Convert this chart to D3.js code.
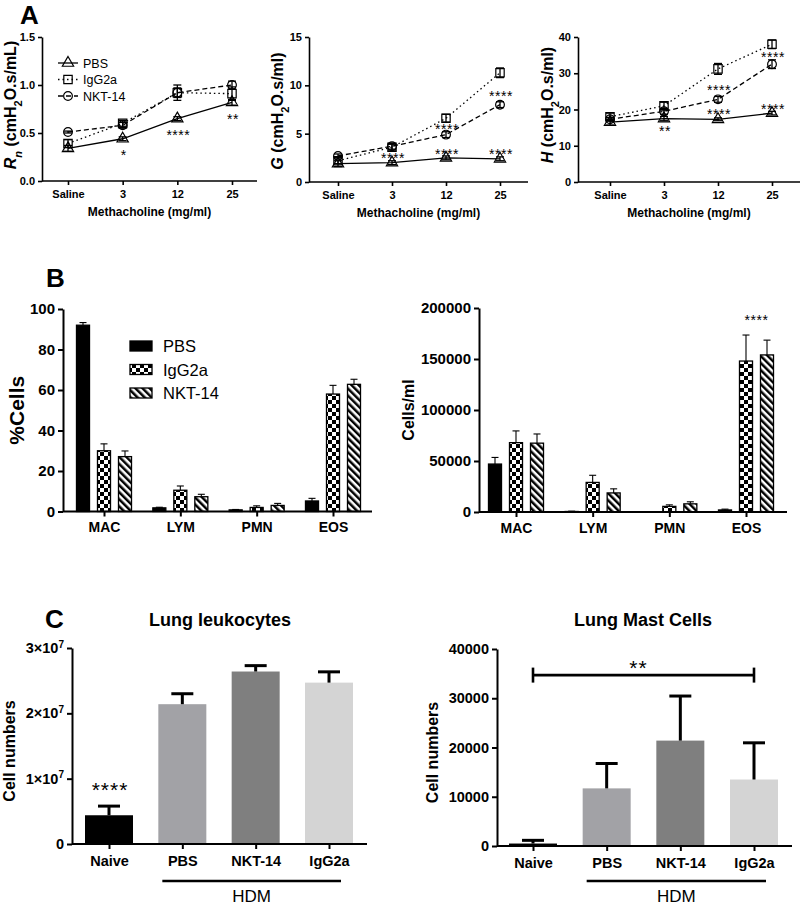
<!DOCTYPE html>
<html><head><meta charset="utf-8">
<script src="https://cdn.jsdelivr.net/npm/d3@7"></script>
<style>
body{margin:0;background:#fff;}
svg{display:block;font-family:"Liberation Sans",Arial,Helvetica,sans-serif;}
</style></head><body>
<svg id="fig" width="800" height="905"></svg>
<script>
// ================= DATA =================
const doses = ["Saline","3","12","25"];
const seriesA = ["PBS","IgG2a","NKT-14"];

const rnPBS = [0.34,0.44,0.65,0.82];
const rnIgG = [0.39,0.60,0.92,0.91];
const rnNKT = [0.51,0.58,0.92,1.00];
const rnPBSErr = [0.03,0.02,0.02,0.03];
const rnIgGErr = [0.04,0.03,0.08,0.07];
const rnNKTErr = [0.01,0.03,0.05,0.04];
const rnTicks = [0,0.5,1.0,1.5];
const rnStars = [{dose:"3",y:0.30,label:"*"},{dose:"12",y:0.51,label:"****"},{dose:"25",y:0.68,label:"**"}];

const gPBS = [1.9,2.0,2.5,2.4];
const gIgG = [2.2,3.6,6.6,11.3];
const gNKT = [2.7,3.7,4.9,8.0];
const gPBSErr = [0.3,0.2,0.2,0.2];
const gIgGErr = [0.3,0.3,0.4,0.5];
const gNKTErr = [0.2,0.3,0.3,0.3];
const gTicks = [0,5,10,15];
const gStars = [{dose:"3",y:2.8,label:"****"},{dose:"12",y:5.8,label:"****"},{dose:"12",y:3.2,label:"****"},
                {dose:"25",y:9.2,label:"****"},{dose:"25",y:3.2,label:"****"}];

const hPBS = [16.5,17.5,17.3,19.0];
const hIgG = [18.0,21.0,31.2,38.0];
const hNKT = [17.3,19.5,22.8,32.5];
const hPBSErr = [0.8,0.6,0.4,0.5];
const hIgGErr = [1.0,1.0,1.5,1.2];
const hNKTErr = [0.5,0.8,0.8,1.2];
const hTicks = [0,10,20,30,40];
const hStars = [{dose:"3",y:14.9,label:"**"},{dose:"12",y:26.2,label:"****"},{dose:"12",y:19.6,label:"****"},
                {dose:"25",y:35.3,label:"****"},{dose:"25",y:21.0,label:"****"}];

const cellTypes = ["MAC","LYM","PMN","EOS"];
const pctPBS = [92,1.8,0.8,5.2];
const pctIgG = [30,10.5,2.0,58];
const pctNKT = [27.1,7.3,3.0,62.8];
const pctPBSErr = [1.3,0.3,0.2,1.3];
const pctIgGErr = [3.4,2.1,0.8,4.3];
const pctNKTErr = [2.8,1.2,1.0,2.5];
const pctTicks = [0,20,40,60,80,100];

const cntPBS = [47000,500,200,2000];
const cntIgG = [68000,29000,5500,148000];
const cntNKT = [67500,18700,8000,154000];
const cntPBSErr = [6500,300,150,800];
const cntIgGErr = [11500,7000,1500,25500];
const cntNKTErr = [9000,4000,2000,14500];
const cntTicks = [0,50000,100000,150000,200000];
const cntStars = [{cat:"EOS",y:191000,label:"****"}];

const groupsC = ["Naive","PBS","NKT-14","IgG2a"];
const leuko = [4.4e6,2.14e7,2.64e7,2.47e7];
const leukoErr = [1.4e6,1.6e6,0.9e6,1.65e6];
const leukoTicks = [0,1e7,2e7,3e7];
const mast = [500,11700,21400,13500];
const mastErr = [650,5050,9050,7450];
const mastTicks = [0,10000,20000,30000,40000];

// ================= DRAWING =================
const svg = d3.select("#fig");
const defs = svg.append("defs");
const pc = defs.append("pattern").attr("id","checks").attr("patternUnits","userSpaceOnUse").attr("width",8).attr("height",8);
pc.append("rect").attr("width",8).attr("height",8).attr("fill","#fff");
pc.append("rect").attr("width",4).attr("height",4).attr("fill","#000");
pc.append("rect").attr("x",4).attr("y",4).attr("width",4).attr("height",4).attr("fill","#000");
const ps = defs.append("pattern").attr("id","stripes").attr("patternUnits","userSpaceOnUse")
  .attr("width",5).attr("height",5).attr("patternTransform","rotate(-45)");
ps.append("rect").attr("width",5).attr("height",5).attr("fill","#fff");
ps.append("rect").attr("width",2.5).attr("height",5).attr("fill","#000");

function styleAxis(sel, fs, sw){
  sel.selectAll("path,line").attr("stroke","#000").attr("stroke-width",sw);
  sel.selectAll("text").attr("fill","#000").style("font-size",fs+"px").style("font-weight","bold")
     .style("font-family",'"Liberation Sans",Arial,sans-serif');
}
function panelLetter(t,x,y){
  svg.append("text").attr("x",x).attr("y",y).text(t).style("font-size","26px").style("font-weight","bold");
}
panelLetter("A",20,24);
panelLetter("B",46,287);
panelLetter("C",45,628);

// ---------- Panel A ----------
const markerType = {"PBS":d3.symbolTriangle,"IgG2a":d3.symbolSquare,"NKT-14":d3.symbolCircle};
const markerSize = {"PBS":55,"IgG2a":70,"NKT-14":60};
const dashes = {"PBS":null,"IgG2a":"1.5,3","NKT-14":"5,3"};

function linePanel(cfg){
  const g = svg.append("g");
  const x = d3.scalePoint().domain(doses).range(cfg.catRange);
  const y = d3.scaleLinear().domain([0,cfg.max]).range([cfg.y0,cfg.yTop]);
  const ya = g.append("g").attr("transform",`translate(${cfg.x0},0)`)
    .call(d3.axisLeft(y).tickValues(cfg.ticks).tickFormat(cfg.fmt).tickSize(4).tickSizeOuter(0).tickPadding(3));
  styleAxis(ya,11,1.6);
  const xa = g.append("g").attr("transform",`translate(0,${cfg.y0})`)
    .call(d3.axisBottom(x).tickSize(4).tickSizeOuter(0).tickPadding(5));
  xa.select(".domain").remove();
  styleAxis(xa,11,1.6);
  g.append("line").attr("x1",cfg.x0).attr("x2",cfg.x1).attr("y1",cfg.y0).attr("y2",cfg.y0)
    .attr("stroke","#000").attr("stroke-width",1.6);
  g.append("text").attr("x",(cfg.x0+cfg.x1)/2).attr("y",cfg.y0+35).attr("text-anchor","middle")
    .style("font-size","12px").style("font-weight","bold").text("Methacholine (mg/ml)");
  const yt = g.append("text").attr("transform",`translate(${cfg.titleX},${cfg.titleY}) rotate(-90)`)
    .attr("text-anchor","middle").style("font-size","16px").style("font-weight","bold");
  cfg.title(yt);

  const line = d3.line().x((d,i)=>x(doses[i])).y(d=>y(d));
  cfg.series.forEach(s=>{
    g.append("path").datum(s.vals).attr("d",line).attr("fill","none").attr("stroke","#000")
      .attr("stroke-width",1.3).attr("stroke-dasharray",dashes[s.name]);
  });
  cfg.series.forEach(s=>{
    s.vals.forEach((v,i)=>{
      const cx = x(doses[i]);
      g.append("path").attr("d",d3.symbol().type(markerType[s.name]).size(markerSize[s.name])())
        .attr("transform",`translate(${cx},${y(v)})`).attr("fill","none").attr("stroke","#000").attr("stroke-width",1.2);
      const e = s.errs[i];
      g.append("line").attr("x1",cx).attr("x2",cx).attr("y1",y(v-e)).attr("y2",y(v+e)).attr("stroke","#000").attr("stroke-width",1.3);
      [v-e,v+e].forEach(w=>g.append("line").attr("x1",cx-4).attr("x2",cx+4).attr("y1",y(w)).attr("y2",y(w))
        .attr("stroke","#000").attr("stroke-width",1.3));
    });
  });
  cfg.stars.forEach(s=>{
    g.append("text").attr("x",x(s.dose)+1).attr("y",y(s.y)+8).attr("text-anchor","middle")
      .style("font-size","14px").style("letter-spacing","0.5px").text(s.label);
  });
  return {g,x,y};
}
function unitsTitle(t, letter, sub, unit){
  t.append("tspan").style("font-style","italic").text(letter);
  if(sub){ t.append("tspan").style("font-style","italic").attr("baseline-shift","sub").style("font-size","11px").text(sub); }
  t.append("tspan").text(" (cmH");
  t.append("tspan").attr("baseline-shift","sub").style("font-size","11px").text("2");
  t.append("tspan").text("O.s/"+unit+")");
}
linePanel({x0:42,x1:257,catRange:[68,232],y0:181,yTop:37,max:1.5,ticks:rnTicks,fmt:d3.format(".1f"),
  titleX:16,titleY:105,title:t=>unitsTitle(t,"R","n","mL"),
  series:[{name:"PBS",vals:rnPBS,errs:rnPBSErr},{name:"IgG2a",vals:rnIgG,errs:rnIgGErr},{name:"NKT-14",vals:rnNKT,errs:rnNKTErr}],
  stars:rnStars});
linePanel({x0:309,x1:528,catRange:[338,500],y0:182,yTop:37,max:15,ticks:gTicks,fmt:d3.format("d"),
  titleX:283,titleY:111,title:t=>unitsTitle(t,"G",null,"ml"),
  series:[{name:"PBS",vals:gPBS,errs:gPBSErr},{name:"IgG2a",vals:gIgG,errs:gIgGErr},{name:"NKT-14",vals:gNKT,errs:gNKTErr}],
  stars:gStars});
linePanel({x0:578,x1:800,catRange:[610,772],y0:182,yTop:37,max:40,ticks:hTicks,fmt:d3.format("d"),
  titleX:553,titleY:105,title:t=>unitsTitle(t,"H",null,"ml"),
  series:[{name:"PBS",vals:hPBS,errs:hPBSErr},{name:"IgG2a",vals:hIgG,errs:hIgGErr},{name:"NKT-14",vals:hNKT,errs:hNKTErr}],
  stars:hStars});
seriesA.forEach((s,i)=>{
  const ly = 63 + i*16.5;
  const lg = svg.append("g");
  lg.append("line").attr("x1",58).attr("x2",78).attr("y1",ly).attr("y2",ly).attr("stroke","#000")
    .attr("stroke-width",1.3).attr("stroke-dasharray",dashes[s]);
  lg.append("path").attr("d",d3.symbol().type(markerType[s]).size(markerSize[s])())
    .attr("transform",`translate(68,${ly})`).attr("fill","none").attr("stroke","#000").attr("stroke-width",1.2);
  lg.append("text").attr("x",83).attr("y",ly+4.5).style("font-size","12.5px").text(s);
});

// ---------- Panel B ----------
const fills = {"PBS":"#000","IgG2a":"url(#checks)","NKT-14":"url(#stripes)"};
function barPanel(cfg){
  const g = svg.append("g");
  const x = d3.scalePoint().domain(cellTypes).range(cfg.catRange);
  const xs = d3.scaleBand().domain(seriesA).range([-31.5,31.5]).paddingInner(0.38).paddingOuter(0.19);
  const y = d3.scaleLinear().domain([0,cfg.max]).range([cfg.y0,cfg.yTop]);
  cfg.series.forEach(s=>{
    s.vals.forEach((v,i)=>{
      const bx = x(cellTypes[i])+xs(s.name), cx = bx+xs.bandwidth()/2;
      g.append("rect").attr("x",bx).attr("y",y(v)).attr("width",xs.bandwidth()).attr("height",cfg.y0-y(v))
        .attr("fill",fills[s.name]).attr("stroke","#000").attr("stroke-width",1.3);
      const e = s.errs[i];
      g.append("line").attr("x1",cx).attr("x2",cx).attr("y1",y(v)).attr("y2",y(v+e)).attr("stroke","#000").attr("stroke-width",1.1);
      g.append("line").attr("x1",cx-3.5).attr("x2",cx+3.5).attr("y1",y(v+e)).attr("y2",y(v+e)).attr("stroke","#000").attr("stroke-width",1.1);
    });
  });
  const ya = g.append("g").attr("transform",`translate(${cfg.x0},0)`)
    .call(d3.axisLeft(y).tickValues(cfg.ticks).tickFormat(d3.format("d")).tickSize(5).tickSizeOuter(0).tickPadding(3));
  styleAxis(ya,15,2);
  const xa = g.append("g").attr("transform",`translate(0,${cfg.y0})`)
    .call(d3.axisBottom(x).tickSize(5).tickSizeOuter(0).tickPadding(6));
  xa.select(".domain").remove();
  styleAxis(xa,14,2);
  g.append("line").attr("x1",cfg.x0).attr("x2",cfg.x1).attr("y1",cfg.y0).attr("y2",cfg.y0).attr("stroke","#000").attr("stroke-width",2);
  g.append("text").attr("transform",`translate(${cfg.titleX},${(cfg.y0+cfg.yTop)/2}) rotate(-90)`)
    .attr("text-anchor","middle").style("font-size",cfg.titleSize+"px").style("font-weight","bold").text(cfg.title);
  (cfg.stars||[]).forEach(s=>{
    g.append("text").attr("x",x(s.cat)+10.5).attr("y",y(s.y)+8).attr("text-anchor","middle")
      .style("font-size","14px").style("letter-spacing","0.5px").text(s.label);
  });
  return g;
}
barPanel({x0:63,x1:372,catRange:[104,333],y0:511.5,yTop:309,max:100,ticks:pctTicks,title:"%Cells",titleX:24,titleSize:21,
  series:[{name:"PBS",vals:pctPBS,errs:pctPBSErr},{name:"IgG2a",vals:pctIgG,errs:pctIgGErr},{name:"NKT-14",vals:pctNKT,errs:pctNKTErr}]});
barPanel({x0:479,x1:787,catRange:[516,746],y0:512,yTop:308,max:200000,ticks:cntTicks,title:"Cells/ml",titleX:414,titleSize:16,
  series:[{name:"PBS",vals:cntPBS,errs:cntPBSErr},{name:"IgG2a",vals:cntIgG,errs:cntIgGErr},{name:"NKT-14",vals:cntNKT,errs:cntNKTErr}],
  stars:cntStars});
seriesA.forEach((s,i)=>{
  const ly = 346 + i*23.5;
  svg.append("rect").attr("x",130).attr("y",ly-5).attr("width",22).attr("height",10)
    .attr("fill",fills[s]).attr("stroke","#000").attr("stroke-width",1.3);
  svg.append("text").attr("x",163).attr("y",ly+6).style("font-size","16.5px").text(s);
});

// ---------- Panel C ----------
const colorsC = {"Naive":"#000000","PBS":"#a2a2a6","NKT-14":"#7f7f7f","IgG2a":"#d4d4d4"};
function cPanel(cfg){
  const g = svg.append("g");
  const x = d3.scalePoint().domain(groupsC).range(cfg.catRange);
  const y = d3.scaleLinear().domain([0,cfg.max]).range([cfg.y0,cfg.yTop]);
  const bw = 48;
  cfg.vals.forEach((v,i)=>{
    const c = groupsC[i], cx = x(c);
    g.append("rect").attr("x",cx-bw/2).attr("y",y(v)).attr("width",bw).attr("height",cfg.y0-y(v)).attr("fill",colorsC[c]);
    const e = cfg.errs[i];
    g.append("line").attr("x1",cx).attr("x2",cx).attr("y1",y(v)).attr("y2",y(v+e)).attr("stroke","#000").attr("stroke-width",3);
    g.append("line").attr("x1",cx-11).attr("x2",cx+11).attr("y1",y(v+e)).attr("y2",y(v+e)).attr("stroke","#000").attr("stroke-width",3);
  });
  const ya = g.append("g").attr("transform",`translate(${cfg.x0},0)`)
    .call(d3.axisLeft(y).tickValues(cfg.ticks).tickSize(5).tickSizeOuter(0).tickPadding(3));
  styleAxis(ya,14.5,2);
  if(cfg.sci){
    ya.selectAll(".tick text").each(function(d){
      const t = d3.select(this); if(d===0){t.text("0");return;}
      t.text(null);
      t.append("tspan").text(d3.format("d")(d/1e7)+"×10");
      t.append("tspan").attr("dy","-0.55em").style("font-size","10px").text("7");
    });
  } else {
    ya.selectAll(".tick text").text(d=>d3.format("d")(d));
  }
  const xa = g.append("g").attr("transform",`translate(0,${cfg.y0})`)
    .call(d3.axisBottom(x).tickSize(5).tickSizeOuter(0).tickPadding(7));
  xa.select(".domain").remove();
  styleAxis(xa,14.5,2);
  g.append("line").attr("x1",cfg.x0).attr("x2",cfg.x1).attr("y1",cfg.y0).attr("y2",cfg.y0).attr("stroke","#000").attr("stroke-width",2);
  g.append("text").attr("transform",`translate(${cfg.titleX},${(cfg.y0+cfg.yTop)/2+5}) rotate(-90)`)
    .attr("text-anchor","middle").style("font-size","16px").style("font-weight","bold").text("Cell numbers");
  g.append("text").attr("x",cfg.headX).attr("y",626).attr("text-anchor","middle")
    .style("font-size","18px").style("font-weight","bold").text(cfg.head);
  g.append("line").attr("x1",x("PBS")-20).attr("x2",x("IgG2a")+12).attr("y1",881).attr("y2",881).attr("stroke","#000").attr("stroke-width",2.6);
  g.append("text").attr("x",(x("PBS")+x("IgG2a"))/2-4).attr("y",902).attr("text-anchor","middle")
    .style("font-size","17px").text("HDM");
  return {g,x,y};
}
const C1 = cPanel({x0:72,x1:367,catRange:[109,329],y0:844,yTop:648,max:3e7,ticks:leukoTicks,sci:true,
  vals:leuko,errs:leukoErr,titleX:15,head:"Lung leukocytes",headX:220});
C1.g.append("text").attr("x",C1.x("Naive")+1).attr("y",C1.y(9.0e6)+12).attr("text-anchor","middle")
  .style("font-size","21px").style("letter-spacing","1px").text("****");
const C2 = cPanel({x0:497,x1:792,catRange:[533,754],y0:846,yTop:649,max:40000,ticks:mastTicks,sci:false,
  vals:mast,errs:mastErr,titleX:438,head:"Lung Mast Cells",headX:643});
const by = C2.y(34700);
C2.g.append("line").attr("x1",C2.x("Naive")).attr("x2",C2.x("IgG2a")).attr("y1",by).attr("y2",by).attr("stroke","#000").attr("stroke-width",2.6);
["Naive","IgG2a"].forEach(c=>C2.g.append("line").attr("x1",C2.x(c)).attr("x2",C2.x(c)).attr("y1",by-7.5).attr("y2",by+7.5)
  .attr("stroke","#000").attr("stroke-width",2.6));
C2.g.append("text").attr("x",(C2.x("PBS")+C2.x("NKT-14"))/2-5).attr("y",C2.y(37200)+12).attr("text-anchor","middle")
  .style("font-size","21px").style("letter-spacing","1px").text("**");
</script>
</body></html>
